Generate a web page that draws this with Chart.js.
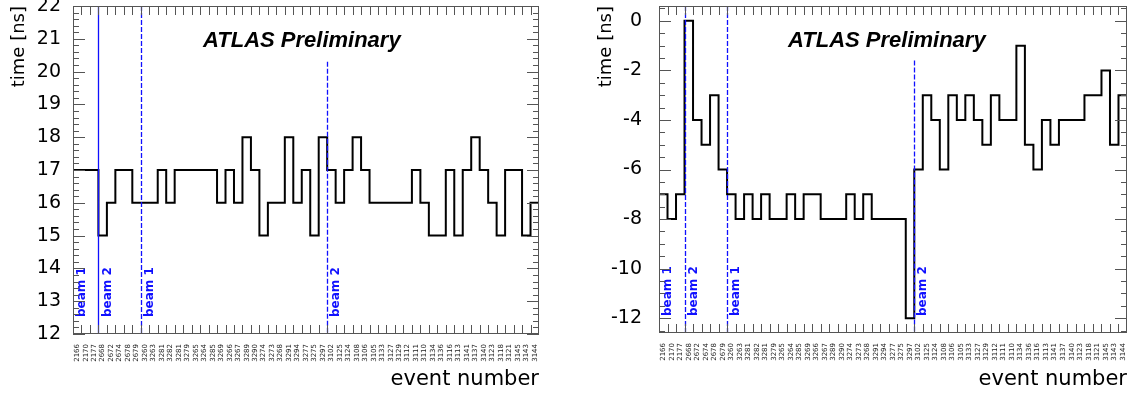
<!DOCTYPE html>
<html>
<head>
<meta charset="utf-8">
<script src="https://cdn.jsdelivr.net/npm/chart.js@4.4.1/dist/chart.umd.min.js"></script>
<style>
  body { margin: 0; background: #fff; width: 1134px; height: 394px; overflow: hidden; position: relative; }
  canvas { position: absolute; top: 0; }
</style>
</head>
<body>
<canvas id="izq" width="567" height="394" style="left:0"></canvas>
<canvas id="der" width="567" height="394" style="left:567px"></canvas>
<script>
// numeros de evento (una etiqueta por bin)
const eventos = [
  "2166", "2170", "2177", "2668", "2672", "2674", "2678", "2679",
  "3260", "3263", "3281", "3282", "3281", "3279", "3265", "3264", "3285", "3269",
  "3266", "3267", "3289", "3290", "3274", "3273", "3268", "3291", "3294", "3277",
  "3275", "3297", "3102", "3125", "3124", "3108", "3106", "3105", "3133", "3127",
  "3129", "3112", "3111", "3110", "3134", "3136", "3116", "3113", "3141", "3137",
  "3140", "3123", "3118", "3121", "3145", "3143", "3144"
];

// tiempo [ns] por evento
const tiempoIzq = [
  17, 17, 17, 15, 16, 17, 17, 16, 16, 16, 17, 16, 17, 17, 17, 17, 17, 16, 17, 16,
  18, 17, 15, 16, 16, 18, 16, 17, 15, 18, 17, 16, 17, 18, 17, 16, 16, 16, 16, 16,
  17, 16, 15, 15, 17, 15, 17, 18, 17, 16, 15, 17, 17, 15, 16
];
const tiempoDer = [
  -7, -8, -7, 0, -4, -5, -3, -6, -7, -8, -7, -8, -7, -8, -8, -7, -8, -7, -7, -8,
  -8, -8, -7, -8, -7, -8, -8, -8, -8, -12, -6, -3, -4, -6, -3, -4, -3, -4, -5, -3,
  -4, -4, -1, -5, -6, -4, -5, -4, -4, -4, -3, -3, -2, -5, -3
];

const ticksIzq = [12, 13, 14, 15, 16, 17, 18, 19, 20, 21, 22];
const ticksDer = [0, -2, -4, -6, -8, -10, -12];

// cambios de haz (borde de bin) y su nombre
const bordesHaz = [0, 3, 8, 30];
const nombresHaz = ["beam 1", "beam 2", "beam 1", "beam 2"];

const marco = {
  id: "marco",
  afterDatasetsDraw(chart, args, opts) {
    const { ctx, chartArea: a, scales: { x, y } } = chart;
    ctx.save();

    // lineas de haz
    ctx.strokeStyle = "#1010ff";
    ctx.lineWidth = 1.3;
    bordesHaz.forEach((b, i) => {
      if (b === 0) return;
      const px = Math.round(x.getPixelForValue(b)) + 0.5;
      const arriba = i === 3 ? y.getPixelForValue(opts.topeHaz) : a.top;
      ctx.setLineDash(i === 1 && opts.solida ? [] : [5, 2]);
      ctx.beginPath();
      ctx.moveTo(px, arriba);
      ctx.lineTo(px, a.bottom);
      ctx.stroke();
    });
    ctx.setLineDash([]);

    ctx.fillStyle = "#1010ff";
    ctx.font = "bold 12px 'DejaVu Sans'";
    ctx.textAlign = "left";
    ctx.textBaseline = "middle";
    bordesHaz.forEach((b, i) => {
      const px = x.getPixelForValue(b) + 9;
      ctx.save();
      ctx.translate(px, a.bottom - 17);
      ctx.rotate(-Math.PI / 2);
      ctx.fillText(nombresHaz[i], 0, 0);
      ctx.restore();
    });

    ctx.fillStyle = "#000";
    ctx.font = "italic bold 22px 'Liberation Sans'";
    ctx.textBaseline = "alphabetic";
    ctx.fillText("ATLAS Preliminary", a.left + opts.atlasX, a.top + 41);

    // marco y marcas hacia dentro
    ctx.strokeStyle = "#555";
    ctx.lineWidth = 1;
    ctx.strokeRect(a.left + 0.5, a.top + 0.5, a.width - 1, a.height - 1);
    ctx.beginPath();
    for (let k = 1; k < eventos.length; k++) {
      const px = Math.round(x.getPixelForValue(k)) + 0.5;
      ctx.moveTo(px, a.bottom);
      ctx.lineTo(px, a.bottom - 9);
      ctx.moveTo(px, a.top);
      ctx.lineTo(px, a.top + 9);
    }
    const paso = opts.menor;
    for (let v = Math.ceil(y.min / paso) * paso; v <= y.max + 1e-9; v += paso) {
      const r = Math.round(v / opts.mayor);
      const largo = Math.abs(v - r * opts.mayor) < 1e-6 ? 12 : 6;
      const py = Math.round(y.getPixelForValue(v)) + 0.5;
      ctx.moveTo(a.left, py);
      ctx.lineTo(a.left + largo, py);
      ctx.moveTo(a.right, py);
      ctx.lineTo(a.right - largo, py);
    }
    ctx.stroke();
    ctx.restore();
  }
};

function pasos(valores) {
  const puntos = valores.map((v, i) => ({ x: i, y: v }));
  puntos.push({ x: valores.length, y: valores[valores.length - 1] });
  return puntos;
}

function sinRelleno(s) {
  s.paddingTop = 0;
  s.paddingBottom = 0;
  s.paddingLeft = 0;
  s.paddingRight = 0;
}

function grafica(id, valores, ticksY, cfg) {
  return new Chart(document.getElementById(id), {
    type: "line",
    data: {
      datasets: [{
        data: pasos(valores),
        stepped: true,
        borderColor: "#000",
        borderWidth: 2,
        pointRadius: 0,
        fill: false
      }]
    },
    options: {
      responsive: false,
      animation: false,
      devicePixelRatio: 1,
      layout: { padding: { top: 6, right: cfg.derecha, bottom: 0, left: 0 } },
      plugins: {
        legend: { display: false },
        tooltip: { enabled: false },
        marco: cfg
      },
      scales: {
        x: {
          type: "linear",
          min: 0,
          max: eventos.length,
          grid: { display: false },
          border: { display: false },
          afterBuildTicks: s => { s.ticks = eventos.map((e, i) => ({ value: i + 0.5 })); },
          afterFit: s => { s.height = cfg.altoX; sinRelleno(s); },
          ticks: {
            autoSkip: false,
            minRotation: 90,
            maxRotation: 90,
            padding: 2,
            color: "#222",
            font: { family: "'DejaVu Sans'", size: 7 },
            callback: (v, i) => eventos[i]
          },
          title: {
            display: true,
            text: "event number",
            align: "end",
            color: "#000",
            font: { family: "'DejaVu Sans'", size: 21 },
            padding: { top: 0, bottom: 2 }
          }
        },
        y: {
          min: cfg.ymin,
          max: cfg.ymax,
          grid: { display: false },
          border: { display: false },
          afterBuildTicks: s => { s.ticks = ticksY.map(v => ({ value: v })); },
          afterFit: s => { s.width = cfg.anchoY; sinRelleno(s); },
          ticks: {
            padding: cfg.relleno,
            color: "#000",
            font: { family: "'DejaVu Sans'", size: 19 }
          },
          title: {
            display: true,
            text: "time [ns]",
            align: "end",
            color: "#000",
            font: { family: "'DejaVu Sans'", size: 18 },
            padding: { top: cfg.tituloY, bottom: 0 }
          }
        }
      }
    },
    plugins: [marco]
  });
}

grafica("izq", tiempoIzq, ticksIzq, {
  ymin: 12, ymax: 22, mayor: 1, menor: 0.2, topeHaz: 20.3, solida: true,
  anchoY: 73, altoX: 60, derecha: 28, relleno: 4, tituloY: 9, atlasX: 130
});
grafica("der", tiempoDer, ticksDer, {
  ymin: -12.6, ymax: 0.6, mayor: 2, menor: 0.5, topeHaz: -1.6, solida: false,
  anchoY: 92, altoX: 61, derecha: 7, relleno: 9, tituloY: 29, atlasX: 129
});
</script>
</body>
</html>
